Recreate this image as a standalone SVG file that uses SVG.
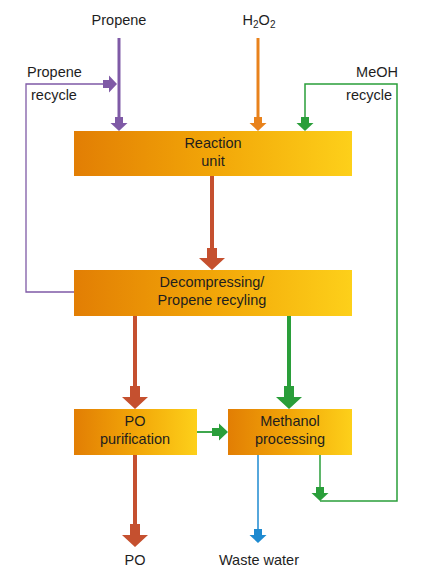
<svg xmlns="http://www.w3.org/2000/svg" width="425" height="580" viewBox="0 0 425 580">
<defs>
<linearGradient id="g" x1="0" y1="0" x2="1" y2="0">
<stop offset="0" stop-color="#e27e04"/>
<stop offset="0.5" stop-color="#f2a608"/>
<stop offset="1" stop-color="#fdd01a"/>
</linearGradient>
<style>
.box{fill:url(#g);}
text{font-family:"Liberation Sans",Arial,sans-serif;font-size:14.5px;fill:#1e1e1e;text-anchor:middle;}
.pu{stroke:#7f5aa6;fill:none;}
.puf{fill:#7f5aa6;}
.or{stroke:#e8821c;fill:none;}
.orf{fill:#e8821c;}
.rd{stroke:#c5502f;fill:none;stroke-width:4;}
.rdf{fill:#c5502f;}
.gr{stroke:#2a9e3a;fill:none;}
.grf{fill:#2a9e3a;}
.bl{stroke:#1e8ad0;fill:none;stroke-width:1.5;}
.blf{fill:#1e8ad0;}
</style>
</defs>
<rect width="425" height="580" fill="#ffffff"/>

<g id="connectors">
<!-- Propene feed -->
<line class="pu" x1="119" y1="38" x2="119" y2="118" stroke-width="3"/>
<polygon class="puf" points="115,117 123,117 123,123 127.5,123 119,131 110.5,123 115,123"/>
<!-- Propene recycle -->
<polyline class="pu" points="74,292 26,292 26,84 104,84" stroke-width="1.3"/>
<polygon class="puf" points="103,80 103,88 109,88 109,92.5 117,84 109,75.5 109,80"/>
<!-- H2O2 -->
<line class="or" x1="258" y1="38" x2="258" y2="118" stroke-width="3"/>
<polygon class="orf" points="254,117 262,117 262,123 266.5,123 258,131 249.5,123 254,123"/>
<!-- MeOH recycle -->
<line class="gr" x1="320" y1="455" x2="320" y2="488" stroke-width="1.5"/>
<polygon class="grf" points="316,487 324,487 324,493 328.5,493 320,501 311.5,493 316,493"/>
<polyline class="gr" points="320,501 397,501 397,84 305,84 305,118" stroke-width="1.5"/>
<polygon class="grf" points="301,117 309,117 309,123 313.5,123 305,131 296.5,123 301,123"/>
<!-- Reaction -> Decompressing -->
<line class="rd" x1="212" y1="176" x2="212" y2="250"/>
<polygon class="rdf" points="207,248 217,248 217,258 225,258 212,270 199,258 207,258"/>
<!-- Decompressing -> PO purification -->
<line class="rd" x1="135" y1="316" x2="135" y2="388"/>
<polygon class="rdf" points="130,386 140,386 140,397 148,397 135,409 122,397 130,397"/>
<!-- Decompressing -> Methanol processing -->
<line class="gr" x1="289" y1="316" x2="289" y2="388" stroke-width="4"/>
<polygon class="grf" points="284,386 294,386 294,397 302,397 289,409 276,397 284,397"/>
<!-- PO purification -> Methanol processing -->
<line class="gr" x1="197" y1="432" x2="214" y2="432" stroke-width="1.8"/>
<polygon class="grf" points="212,428 212,436 219,436 219,440.5 228,432 219,423.5 219,428"/>
<!-- PO output -->
<line class="rd" x1="135" y1="455" x2="135" y2="526"/>
<polygon class="rdf" points="130,524 140,524 140,535 148,535 135,547 122,535 130,535"/>
<!-- Waste water -->
<line class="bl" x1="258" y1="455" x2="258" y2="530"/>
<polygon class="blf" points="254,529 262,529 262,535 266.5,535 258,543 249.5,535 254,535"/>
</g>

<g id="reaction-unit">
<rect class="box" x="74" y="131" width="278" height="45"/>
<text x="213" y="148">Reaction</text>
<text x="213" y="166">unit</text>
</g>
<g id="decompressing">
<rect class="box" x="74" y="270" width="278" height="46"/>
<text x="212" y="287">Decompressing/</text>
<text x="212" y="305">Propene recyling</text>
</g>
<g id="po-purification">
<rect class="box" x="74" y="409" width="123" height="46"/>
<text x="135" y="426">PO</text>
<text x="135" y="444">purification</text>
</g>
<g id="methanol-processing">
<rect class="box" x="228" y="409" width="124" height="46"/>
<text x="290" y="426">Methanol</text>
<text x="290" y="444">processing</text>
</g>

<g id="labels">
<text x="119" y="25">Propene</text>
<text x="259" y="25">H<tspan font-size="10" dy="3">2</tspan><tspan dy="-3">O</tspan><tspan font-size="10" dy="3">2</tspan></text>
<text x="27" y="77" style="text-anchor:start">Propene</text>
<text x="31" y="100" style="text-anchor:start">recycle</text>
<text x="398" y="77" style="text-anchor:end">MeOH</text>
<text x="392" y="100" style="text-anchor:end">recycle</text>
<text x="135" y="565">PO</text>
<text x="259" y="565">Waste water</text>
</g>
</svg>
